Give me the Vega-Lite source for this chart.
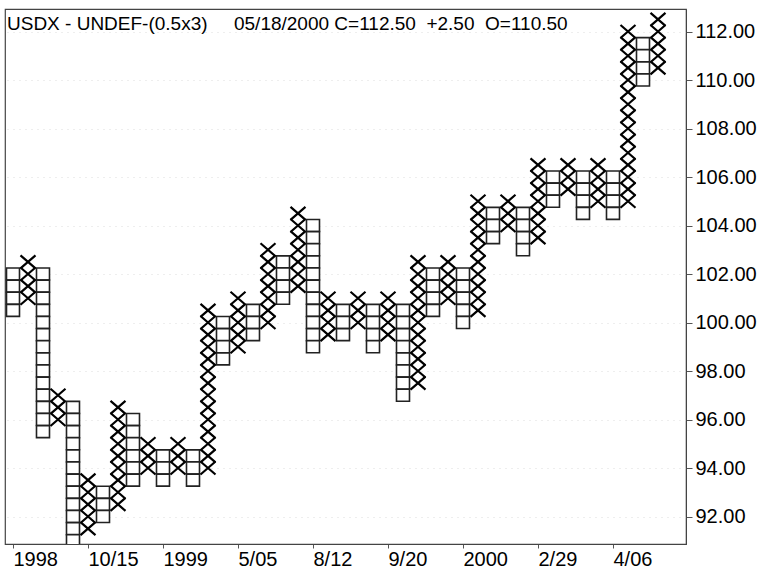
{
  "$schema": "https://vega.github.io/schema/vega-lite/v6.json",
  "width": 681,
  "height": 535,
  "autosize": {"type": "none"},
  "padding": {"left": 5, "top": 9, "right": 79, "bottom": 39},
  "background": "white",
  "config": {
    "view": {"stroke": "#444", "strokeWidth": 1.2},
    "font": "Liberation Sans"
  },
  "title": {
    "text": "USDX - UNDEF-(0.5x3)\u00a0\u00a0\u00a0\u00a0\u00a005/18/2000\u00a0C=112.50\u00a0\u00a0+2.50\u00a0\u00a0O=110.50",
    "anchor": "start",
    "frame": "group",
    "orient": "top",
    "offset": -19,
    "dx": 2,
    "dy": 20.5,
    "baseline": "alphabetic",
    "fontSize": 19,
    "fontWeight": "normal",
    "font": "Liberation Sans",
    "color": "#000"
  },
  "datasets": {
    "os": [
      {"c":1,"p":102},{"c":1,"p":101.5},{"c":1,"p":101},{"c":1,"p":100.5},
      {"c":3,"p":102},{"c":3,"p":101.5},{"c":3,"p":101},{"c":3,"p":100.5},{"c":3,"p":100},{"c":3,"p":99.5},{"c":3,"p":99},{"c":3,"p":98.5},{"c":3,"p":98},{"c":3,"p":97.5},{"c":3,"p":97},{"c":3,"p":96.5},{"c":3,"p":96},{"c":3,"p":95.5},
      {"c":5,"p":96.5},{"c":5,"p":96},{"c":5,"p":95.5},{"c":5,"p":95},{"c":5,"p":94.5},{"c":5,"p":94},{"c":5,"p":93.5},{"c":5,"p":93},{"c":5,"p":92.5},{"c":5,"p":92},{"c":5,"p":91.5},{"c":5,"p":91},
      {"c":7,"p":93},{"c":7,"p":92.5},{"c":7,"p":92},
      {"c":9,"p":96},{"c":9,"p":95.5},{"c":9,"p":95},{"c":9,"p":94.5},{"c":9,"p":94},{"c":9,"p":93.5},
      {"c":11,"p":94.5},{"c":11,"p":94},{"c":11,"p":93.5},
      {"c":13,"p":94.5},{"c":13,"p":94},{"c":13,"p":93.5},
      {"c":15,"p":100},{"c":15,"p":99.5},{"c":15,"p":99},{"c":15,"p":98.5},
      {"c":17,"p":100.5},{"c":17,"p":100},{"c":17,"p":99.5},
      {"c":19,"p":102.5},{"c":19,"p":102},{"c":19,"p":101.5},{"c":19,"p":101},
      {"c":21,"p":104},{"c":21,"p":103.5},{"c":21,"p":103},{"c":21,"p":102.5},{"c":21,"p":102},{"c":21,"p":101.5},{"c":21,"p":101},{"c":21,"p":100.5},{"c":21,"p":100},{"c":21,"p":99.5},{"c":21,"p":99},
      {"c":23,"p":100.5},{"c":23,"p":100},{"c":23,"p":99.5},
      {"c":25,"p":100.5},{"c":25,"p":100},{"c":25,"p":99.5},{"c":25,"p":99},
      {"c":27,"p":100.5},{"c":27,"p":100},{"c":27,"p":99.5},{"c":27,"p":99},{"c":27,"p":98.5},{"c":27,"p":98},{"c":27,"p":97.5},{"c":27,"p":97},
      {"c":29,"p":102},{"c":29,"p":101.5},{"c":29,"p":101},{"c":29,"p":100.5},
      {"c":31,"p":102},{"c":31,"p":101.5},{"c":31,"p":101},{"c":31,"p":100.5},{"c":31,"p":100},
      {"c":33,"p":104.5},{"c":33,"p":104},{"c":33,"p":103.5},
      {"c":35,"p":104.5},{"c":35,"p":104},{"c":35,"p":103.5},{"c":35,"p":103},
      {"c":37,"p":106},{"c":37,"p":105.5},{"c":37,"p":105},
      {"c":39,"p":106},{"c":39,"p":105.5},{"c":39,"p":105},{"c":39,"p":104.5},
      {"c":41,"p":106},{"c":41,"p":105.5},{"c":41,"p":105},{"c":41,"p":104.5},
      {"c":43,"p":111.5},{"c":43,"p":111},{"c":43,"p":110.5},{"c":43,"p":110}
    ],
    "xs": [
      {"c":2,"p":101},{"c":2,"p":101.5},{"c":2,"p":102},{"c":2,"p":102.5},
      {"c":4,"p":96},{"c":4,"p":96.5},{"c":4,"p":97},
      {"c":6,"p":91.5},{"c":6,"p":92},{"c":6,"p":92.5},{"c":6,"p":93},{"c":6,"p":93.5},
      {"c":8,"p":92.5},{"c":8,"p":93},{"c":8,"p":93.5},{"c":8,"p":94},{"c":8,"p":94.5},{"c":8,"p":95},{"c":8,"p":95.5},{"c":8,"p":96},{"c":8,"p":96.5},
      {"c":10,"p":94},{"c":10,"p":94.5},{"c":10,"p":95},
      {"c":12,"p":94},{"c":12,"p":94.5},{"c":12,"p":95},
      {"c":14,"p":94},{"c":14,"p":94.5},{"c":14,"p":95},{"c":14,"p":95.5},{"c":14,"p":96},{"c":14,"p":96.5},{"c":14,"p":97},{"c":14,"p":97.5},{"c":14,"p":98},{"c":14,"p":98.5},{"c":14,"p":99},{"c":14,"p":99.5},{"c":14,"p":100},{"c":14,"p":100.5},
      {"c":16,"p":99},{"c":16,"p":99.5},{"c":16,"p":100},{"c":16,"p":100.5},{"c":16,"p":101},
      {"c":18,"p":100},{"c":18,"p":100.5},{"c":18,"p":101},{"c":18,"p":101.5},{"c":18,"p":102},{"c":18,"p":102.5},{"c":18,"p":103},
      {"c":20,"p":101.5},{"c":20,"p":102},{"c":20,"p":102.5},{"c":20,"p":103},{"c":20,"p":103.5},{"c":20,"p":104},{"c":20,"p":104.5},
      {"c":22,"p":99.5},{"c":22,"p":100},{"c":22,"p":100.5},{"c":22,"p":101},
      {"c":24,"p":100},{"c":24,"p":100.5},{"c":24,"p":101},
      {"c":26,"p":99.5},{"c":26,"p":100},{"c":26,"p":100.5},{"c":26,"p":101},
      {"c":28,"p":97.5},{"c":28,"p":98},{"c":28,"p":98.5},{"c":28,"p":99},{"c":28,"p":99.5},{"c":28,"p":100},{"c":28,"p":100.5},{"c":28,"p":101},{"c":28,"p":101.5},{"c":28,"p":102},{"c":28,"p":102.5},
      {"c":30,"p":101},{"c":30,"p":101.5},{"c":30,"p":102},{"c":30,"p":102.5},
      {"c":32,"p":100.5},{"c":32,"p":101},{"c":32,"p":101.5},{"c":32,"p":102},{"c":32,"p":102.5},{"c":32,"p":103},{"c":32,"p":103.5},{"c":32,"p":104},{"c":32,"p":104.5},{"c":32,"p":105},
      {"c":34,"p":104},{"c":34,"p":104.5},{"c":34,"p":105},
      {"c":36,"p":103.5},{"c":36,"p":104},{"c":36,"p":104.5},{"c":36,"p":105},{"c":36,"p":105.5},{"c":36,"p":106},{"c":36,"p":106.5},
      {"c":38,"p":105.5},{"c":38,"p":106},{"c":38,"p":106.5},
      {"c":40,"p":105},{"c":40,"p":105.5},{"c":40,"p":106},{"c":40,"p":106.5},
      {"c":42,"p":105},{"c":42,"p":105.5},{"c":42,"p":106},{"c":42,"p":106.5},{"c":42,"p":107},{"c":42,"p":107.5},{"c":42,"p":108},{"c":42,"p":108.5},{"c":42,"p":109},{"c":42,"p":109.5},{"c":42,"p":110},{"c":42,"p":110.5},{"c":42,"p":111},{"c":42,"p":111.5},{"c":42,"p":112},
      {"c":44,"p":110.5},{"c":44,"p":111},{"c":44,"p":111.5},{"c":44,"p":112},{"c":44,"p":112.5}
    ]
  },
  "encoding": {
    "x": {
      "field": "c",
      "type": "quantitative",
      "scale": {"domain": [0.467, 45.867], "nice": false, "zero": false},
      "axis": {
        "title": null,
        "orient": "bottom",
        "values": [1, 6, 11, 16, 21, 26, 31, 36, 41],
        "labelExpr": "['1998','10/15','1999','5/05','8/12','9/20','2000','2/29','4/06'][round((datum.value-1)/5)]",
        "labelAlign": "left",
        "labelDx": 2,
        "labelFont": "Liberation Sans",
        "labelFontSize": 20,
        "labelColor": "#000",
        "labelPadding": 1,
        "labelFlush": false,
        "labelOverlap": false,
        "tickSize": 4,
        "tickColor": "#555",
        "domainColor": "#444",
        "grid": false
      }
    },
    "y": {
      "field": "p",
      "type": "quantitative",
      "scale": {"domain": [90.866, 112.928], "nice": false, "zero": false},
      "axis": {
        "title": null,
        "orient": "right",
        "values": [92, 94, 96, 98, 100, 102, 104, 106, 108, 110, 112],
        "format": ".2f",
        "labelFont": "Liberation Sans",
        "labelFontSize": 20,
        "labelColor": "#000",
        "labelPadding": 3,
        "labelFlush": false,
        "labelOverlap": false,
        "tickSize": 6,
        "tickColor": "#555",
        "domainColor": "#444",
        "grid": true,
        "gridColor": "#dcdcdc",
        "gridDash": [1, 5],
        "gridWidth": 1
      }
    }
  },
  "layer": [
    {
      "data": {"name": "os"},
      "mark": {
        "type": "point",
        "shape": "M-1,-0.93H1V0.93H-1Z",
        "size": 169,
        "filled": true,
        "fill": "#fff",
        "stroke": "#222",
        "strokeWidth": 1.6,
        "opacity": 1,
        "clip": true
      }
    },
    {
      "data": {"name": "xs"},
      "mark": {
        "type": "point",
        "shape": "M-1,-0.87L1,0.87M-1,0.87L1,-0.87",
        "size": 225,
        "filled": false,
        "stroke": "#000",
        "strokeWidth": 2.2,
        "opacity": 1,
        "clip": true
      }
    }
  ]
}
